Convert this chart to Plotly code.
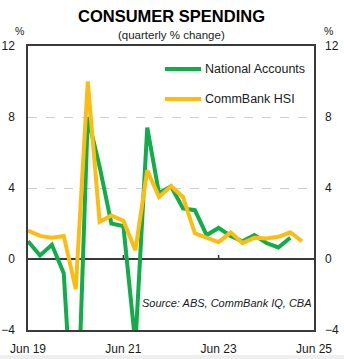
import plotly.graph_objects as go

# Quarterly observations, June 2019 to March 2025
quarters = [
    "2019-06-01", "2019-09-01", "2019-12-01",
    "2020-03-01", "2020-06-01", "2020-09-01", "2020-12-01",
    "2021-03-01", "2021-06-01", "2021-09-01", "2021-12-01",
    "2022-03-01", "2022-06-01", "2022-09-01", "2022-12-01",
    "2023-03-01", "2023-06-01", "2023-09-01", "2023-12-01",
    "2024-03-01", "2024-06-01", "2024-09-01", "2024-12-01",
    "2025-03-01",
]

# Household consumption, quarterly % change (to Dec 24)
national_accounts = [
    1.0, 0.2, 0.8,
    -0.8, -12.0, 8.0, 5.2,
    2.0, 1.85, -4.8, 7.4,
    3.7, 4.1, 2.85, 2.75,
    1.35, 1.75, 1.3, 1.0,
    1.35, 0.9, 0.65, 1.2,
]

# CommBank Household Spending Insights, quarterly % change (to Mar 25)
commbank_hsi = [
    1.6, 1.3, 1.2,
    1.3, -1.7, 10.0, 2.1,
    2.45, 2.15, 0.5, 5.0,
    3.5, 4.1, 3.5, 1.45,
    1.2, 0.95, 1.5, 0.9,
    1.2, 1.15, 1.25, 1.5,
    1.0,
]

x_tick_vals = ["2019-06-01", "2021-06-01", "2023-06-01", "2025-06-01"]
x_tick_text = ["Jun 19", "Jun 21", "Jun 23", "Jun 25"]
y_ticks = [-4, 0, 4, 8, 12]
y_range = [-4, 12]

GREEN = "#12AD4B"
YELLOW = "#FDBD10"
FONT = "Liberation Sans, Arial, sans-serif"
TEXT = "#1a1a1a"
FRAME = "#3a3a3a"

fig = go.Figure()

fig.add_trace(go.Scatter(
    x=quarters[:len(national_accounts)], y=national_accounts,
    mode="lines", name="National Accounts",
    line=dict(color=GREEN, width=4), yaxis="y", hoverinfo="skip",
))
fig.add_trace(go.Scatter(
    x=quarters[:len(commbank_hsi)], y=commbank_hsi,
    mode="lines", name="CommBank HSI",
    line=dict(color=YELLOW, width=4), yaxis="y2", hoverinfo="skip",
))

axis_font = dict(family=FONT, size=12, color=TEXT)

fig.update_layout(
    width=344, height=359,
    margin=dict(l=28, r=30, t=46, b=29),
    paper_bgcolor="white", plot_bgcolor="white",
    showlegend=False,
    font=dict(family=FONT, color=TEXT),
    xaxis=dict(
        type="date", automargin=False,
        range=["2019-06-01", "2025-06-01"],
        tickvals=x_tick_vals, ticktext=x_tick_text,
        ticks="", tickfont=axis_font, ticklabelstandoff=7,
        showgrid=False, zeroline=False,
        showline=True, mirror=True, linecolor=FRAME, linewidth=1.5,
    ),
    yaxis=dict(
        range=y_range, tickvals=y_ticks, automargin=False,
        ticks="", tickfont=axis_font, ticklabelstandoff=9,
        showgrid=True, gridcolor="#CFCFCF", gridwidth=1, griddash="dash",
        zeroline=True, zerolinecolor=FRAME, zerolinewidth=1.5,
        showline=True, mirror=True, linecolor=FRAME, linewidth=1.5,
    ),
    yaxis2=dict(
        range=y_range, tickvals=y_ticks, overlaying="y", side="right",
        automargin=False,
        ticks="", tickfont=axis_font, ticklabelstandoff=10,
        showgrid=False, zeroline=False, showline=False,
    ),
)

# Small tick marks sitting on the zero line at each labelled date
for tv in x_tick_vals[1:-1]:
    fig.add_shape(
        type="line", xref="x", yref="y",
        x0=tv, x1=tv, ysizemode="pixel", yanchor=0, y0=0, y1=4,
        line=dict(color=FRAME, width=1.5),
    )

# Legend drawn as line samples with labels inside the top right of the panel
legend_items = [("National Accounts", GREEN, 0.919), ("CommBank HSI", YELLOW, 0.813)]
for label, colour, ly in legend_items:
    fig.add_shape(
        type="line", xref="paper", yref="paper",
        x0=0.479, x1=0.605, y0=ly, y1=ly,
        line=dict(color=colour, width=4),
    )
    fig.add_annotation(
        text=label, xref="paper", yref="paper", x=0.612, y=ly,
        xanchor="left", yanchor="middle", showarrow=False,
        font=dict(family=FONT, size=12.5, color=TEXT),
    )

# Titles
fig.add_annotation(
    text="<b>CONSUMER SPENDING</b>", xref="paper", yref="paper",
    x=0.5, y=1.106, xanchor="center", yanchor="middle", showarrow=False,
    font=dict(family=FONT, size=16.5, color="#000000"),
)
fig.add_annotation(
    text="(quarterly % change)", xref="paper", yref="paper",
    x=0.5, y=1.039, xanchor="center", yanchor="middle", showarrow=False,
    font=dict(family=FONT, size=11.5, color=TEXT),
)

# Unit markers above each value axis
for ux in (-0.03, 1.05):
    fig.add_annotation(
        text="%", xref="paper", yref="paper", x=ux, y=1.052,
        xanchor="center", yanchor="middle", showarrow=False,
        font=dict(family=FONT, size=10.5, color=TEXT),
    )

# Source note
fig.add_annotation(
    text="<i>Source: ABS, CommBank IQ, CBA</i>", xref="paper", yref="paper",
    x=1.0, y=0.095, xanchor="right", yanchor="middle", showarrow=False,
    font=dict(family=FONT, size=11, color=TEXT),
)

# Light strip along the foot of the page
fig.add_shape(
    type="rect", xref="paper", yref="paper", layer="below",
    x0=-0.2, x1=1.2, y0=-0.088, y1=-0.12,
    fillcolor="#EFEFEF", line=dict(width=0),
)

fig.write_html("out.html")
